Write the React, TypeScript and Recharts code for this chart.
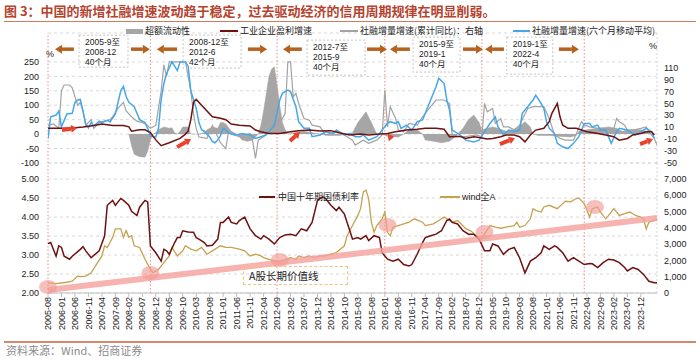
import React from 'react';
import {
  ComposedChart,
  Line,
  Area,
  XAxis,
  YAxis,
  CartesianGrid,
  ReferenceLine,
  ReferenceDot,
} from 'recharts';

// every point is [months since 2005-08, value]
type Pt = [number, number];

const tickLabels = [
  '2005-08', '2006-01', '2006-06', '2006-11', '2007-04', '2007-09', '2008-02', '2008-07', '2008-12',
  '2009-05', '2009-10', '2010-03', '2010-08', '2011-01', '2011-06', '2011-11', '2012-04', '2012-09',
  '2013-02', '2013-07', '2013-12', '2014-05', '2014-10', '2015-03', '2015-08', '2016-01', '2016-06',
  '2016-11', '2017-04', '2017-09', '2018-02', '2018-07', '2018-12', '2019-05', '2019-10', '2020-03',
  '2020-08', '2021-01', '2021-06', '2021-11', '2022-04', '2022-09', '2023-02', '2023-07', '2023-12',
];
const xTicks = tickLabels.map((_, i) => i * 5);

const topLeftTicks = [-100, -50, 0, 50, 100, 150, 200, 250];
const topRightTicks = [-50, -30, -10, 10, 30, 50, 70, 90, 110];
const bottomLeftTicks = [2, 2.5, 3, 3.5, 4, 4.5, 5];
const bottomRightTicks = [0, 1000, 2000, 3000, 4000, 5000, 6000, 7000];

// 超额流动性
const excessLiquidity: Pt[] = [
  [30, 0], [31, -40], [32, -70], [34, -78], [36, -80], [37, -60], [38, -20], [39, 0], [40, 5], [41, 15],
  [43, 25], [45, 20], [46, 22], [47, 5], [48, 0], [49, 10], [50, 25], [52, 25], [53, 0], [56, 0], [58, 5],
  [59, 15], [61, 25], [63, 20], [64, 40], [65, 40], [66, 35], [68, 10], [70, 0], [71, -10], [72, -20],
  [74, -25], [76, -20], [77, -10], [78, 0], [79, 30], [80, 80], [81, 140], [82, 200], [83, 225], [84, 233],
  [85, 170], [86, 100], [87, 40], [88, 15], [89, 0], [92, 5], [95, 10], [98, 5], [101, 0], [104, -5],
  [108, -5], [111, 0], [113, 5], [115, 40], [118, 77], [120, 40], [122, 0], [124, 0], [126, -8], [130, -10],
  [132, 0], [134, 15], [137, 15], [139, 0], [140, -20], [143, -25], [146, -30], [149, -25], [151, -10],
  [152, 0], [154, 20], [156, 50], [158, 66], [160, 40], [161, 15], [163, 20], [165, 25], [167, 20], [170, 10],
  [172, 15], [174, 20], [176, 35], [177, 43], [179, 25], [180, 0], [182, -5], [186, -5], [190, -8], [194, -10],
  [196, -5], [197, 10], [200, 15], [204, 20], [208, 25], [211, 20], [213, 10], [216, 15], [220, 15], [222, 10],
  [224, 0],
];

// 工业企业盈利增速
const profitGrowth: Pt[] = [
  [0, 20], [8, 20], [13, 25], [17, 30], [20, 35], [24, 30], [28, 30], [30, 25], [31, 10], [34, 15], [36, 15],
  [38, 5], [40, -20], [42, -40], [45, -30], [49, -15], [51, 0], [52, 10], [53, 50], [54, 110], [55, 120],
  [57, 100], [59, 80], [61, 60], [64, 55], [66, 50], [68, 35], [71, 31], [75, 28], [77, 14], [79, 8], [82, 2],
  [86, 2], [90, 8], [93, 12], [97, 14], [101, 11], [105, 12], [108, 5], [112, -3], [116, 0], [119, -3],
  [123, 0], [126, 2], [129, 8], [133, 14], [137, 17], [140, 20], [144, 20], [147, 17], [149, -9], [153, -8],
  [155, -15], [158, -9], [160, -12], [163, -17], [165, -15], [168, -9], [170, -3], [173, -3], [175, -9],
  [177, -27], [179, -3], [181, 14], [184, 20], [186, 43], [187, 72], [189, 106], [190, 60], [191, 31],
  [193, 20], [196, 20], [198, 14], [200, 8], [204, 2], [207, -3], [210, -9], [212, -21], [215, -15],
  [217, -3], [220, 2], [222, 8], [224, 8], [225, -3],
];

// 社融增量增速(累计同比)
const tsfCumGrowth: Pt[] = [
  [0, 30], [2, 35], [4, 20], [5, 150], [6, 170], [8, 170], [9, 160], [10, 130], [11, 100], [12, 110],
  [13, 80], [14, 30], [16, 50], [17, 20], [19, 40], [21, 45], [23, 50], [24, 60], [26, 90], [28, 110],
  [29, 80], [31, 60], [33, 45], [35, 40], [37, 30], [38, 20], [40, 30], [42, 150], [43, 240], [44, 200],
  [45, 250], [51, 250], [53, 150], [54, 70], [55, 20], [56, -10], [59, -15], [61, 30], [64, -30], [66, -50],
  [67, 10], [69, -3], [71, -9], [75, 2], [76, -27], [77, -84], [78, -21], [80, -9], [82, 8], [84, 25],
  [85, 48], [87, 54], [88, 72], [89, 250], [90, 250], [91, 129], [92, 141], [93, 106], [95, 54], [97, 48],
  [98, 31], [101, 25], [103, -3], [106, 8], [108, 8], [111, -9], [113, -21], [114, -38], [117, -21],
  [119, -32], [122, -21], [124, -3], [125, 152], [126, 25], [127, 95], [129, 54], [130, 14], [132, 8],
  [134, 37], [137, 31], [139, 60], [142, 95], [144, 118], [147, 118], [149, 106], [150, -3], [153, -9],
  [155, -9], [159, -3], [161, -9], [162, 106], [163, 77], [165, 89], [166, 37], [168, 54], [169, 25],
  [171, 25], [173, 14], [175, 31], [178, 89], [180, 95], [184, 95], [186, 54], [188, -3], [190, -15],
  [192, -21], [195, -21], [198, 43], [199, 31], [201, 25], [204, 20], [206, 20], [209, 14], [210, 20],
  [211, 54], [212, 43], [214, 31], [215, 14], [217, 14], [220, 20], [222, 25], [223, 8], [225, -15], [226, -38],
];

// 社融增量增速(六个月移动平均)
const tsfMa6Growth: Pt[] = [
  [0, -15], [1, 60], [3, 66], [4, 80], [5, 25], [7, 70], [9, 72], [10, 110], [11, 118], [12, 120], [14, 35],
  [15, 22], [16, 40], [17, 28], [19, 45], [20, 40], [22, 48], [23, 42], [25, 70], [26, 110], [27, 150],
  [28, 165], [29, 130], [30, 110], [32, 95], [33, 72], [34, 50], [36, 40], [37, 20], [38, -8], [40, -10],
  [41, 20], [42, 120], [43, 175], [44, 210], [46, 250], [48, 220], [49, 250], [51, 250], [52, 235], [53, 150],
  [54, 120], [55, 90], [56, 40], [57, 15], [58, 10], [60, -10], [61, -25], [62, -30], [63, -20], [64, -5],
  [65, 20], [66, 15], [67, 5], [68, 0], [70, -3], [72, 2], [75, -3], [77, -15], [79, -9], [81, -3], [84, 31],
  [86, 118], [87, 141], [89, 152], [90, 147], [92, 95], [93, 43], [95, 20], [97, 20], [98, -9], [101, -3],
  [103, 8], [106, 2], [107, 14], [110, -3], [112, 2], [114, -9], [116, -9], [117, -3], [119, -21], [122, -9],
  [123, 2], [124, 14], [126, 37], [127, 43], [129, 37], [130, 43], [131, 20], [133, 31], [135, 14], [137, 43],
  [139, 49], [142, 118], [144, 164], [145, 193], [147, 176], [148, 118], [149, 83], [150, 14], [153, -3],
  [155, -21], [158, -27], [160, -21], [162, 8], [164, 37], [166, 60], [167, 25], [169, -3], [171, 14],
  [173, 8], [175, 14], [176, 72], [178, 95], [180, 118], [181, 135], [183, 106], [184, 89], [185, 43],
  [186, 20], [188, 2], [189, -32], [191, -44], [193, -50], [195, -32], [197, -9], [199, 37], [201, 37],
  [202, 25], [204, 31], [205, 14], [207, 14], [209, -32], [211, 8], [212, 20], [215, 14], [217, 2], [218, -3],
  [220, 8], [222, 20], [224, 8], [225, -15],
];

// 中国十年期国债利率 (%)
const bond10y: Pt[] = [
  [0, 3.3], [1, 3.33], [3, 2.97], [4, 3.24], [5, 3.2], [6, 2.97], [8, 2.89], [9, 2.97], [12, 3.15], [13, 3.22],
  [14, 3.11], [16, 2.93], [17, 2.99], [19, 3.11], [21, 3.5], [22, 4.31], [24, 4.44], [25, 4.31], [26, 4.4],
  [27, 4.49], [28, 4.44], [30, 4.31], [31, 4.15], [33, 4.04], [34, 4.26], [36, 4.44], [37, 4.4], [38, 3.24],
  [40, 3.06], [42, 2.84], [43, 3.15], [44, 3.11], [45, 3.02], [47, 3.33], [48, 3.46], [49, 3.46], [50, 3.64],
  [52, 3.61], [54, 3.6], [55, 3.46], [56, 3.42], [58, 3.33], [59, 3.24], [61, 3.26], [63, 3.42], [64, 3.86],
  [65, 3.86], [67, 4.0], [68, 3.86], [70, 3.82], [71, 3.91], [73, 4.0], [75, 3.69], [77, 3.51], [79, 3.42],
  [80, 3.51], [82, 3.42], [84, 3.29], [86, 3.46], [88, 3.53], [90, 3.55], [92, 3.51], [94, 3.69], [96, 3.64],
  [98, 3.86], [100, 4.44], [102, 4.53], [103, 4.49], [105, 4.31], [107, 4.17], [108, 4.26], [110, 4.08],
  [111, 3.86], [112, 3.64], [113, 3.42], [115, 3.46], [116, 3.42], [118, 3.51], [119, 3.38], [121, 3.51],
  [123, 3.46], [124, 3.06], [126, 2.89], [128, 2.84], [130, 2.89], [132, 2.75], [134, 2.71], [135, 2.75],
  [137, 3.02], [139, 3.33], [140, 3.46], [142, 3.51], [144, 3.55], [146, 3.64], [148, 3.91], [149, 3.95],
  [150, 3.86], [152, 3.82], [154, 3.64], [156, 3.55], [158, 3.55], [160, 3.42], [162, 3.11], [164, 3.11],
  [165, 3.29], [167, 3.24], [169, 3.02], [171, 3.15], [173, 3.2], [175, 2.93], [177, 2.53], [179, 2.84],
  [181, 2.93], [183, 3.06], [184, 3.24], [186, 3.15], [188, 3.24], [189, 3.2], [191, 3.06], [193, 2.84],
  [195, 2.93], [197, 2.84], [199, 2.75], [201, 2.78], [202, 2.77], [204, 2.67], [206, 2.8], [208, 2.89],
  [210, 2.87], [212, 2.8], [214, 2.67], [215, 2.58], [217, 2.67], [219, 2.62], [221, 2.49], [223, 2.31],
  [225, 2.27], [226, 2.27],
];

// wind全A
const windA: Pt[] = [
  [0, 621], [3, 580], [7, 660], [9, 725], [11, 1035], [12, 1000], [14, 1035], [16, 1243], [18, 1760],
  [20, 2278], [21, 2900], [22, 2796], [24, 3417], [25, 3935], [27, 3935], [28, 3417], [29, 3831], [30, 3417],
  [31, 3520], [32, 2900], [34, 2796], [36, 2071], [38, 1450], [39, 1243], [41, 1450], [43, 1864], [45, 2278],
  [46, 2796], [48, 2278], [50, 2589], [51, 2900], [53, 2693], [55, 2589], [57, 2796], [59, 2382], [61, 2589],
  [64, 2900], [66, 2796], [68, 2796], [71, 2693], [73, 2589], [75, 2278], [77, 2382], [79, 2278], [80, 2175],
  [82, 2071], [84, 1967], [86, 1864], [88, 2071], [90, 2175], [92, 2071], [93, 2278], [95, 2175], [97, 2278],
  [99, 2175], [101, 2278], [103, 2278], [105, 2382], [107, 2485], [110, 2900], [111, 3521], [113, 4142],
  [115, 4763], [116, 5178], [117, 6213], [118, 6316], [119, 5799], [120, 4349], [121, 3728], [122, 4142],
  [124, 4556], [125, 4970], [126, 3728], [127, 3521], [128, 4039], [130, 4142], [132, 4246], [134, 4349],
  [136, 4556], [139, 4349], [140, 4142], [143, 4246], [145, 4453], [147, 4660], [148, 4556], [150, 4349],
  [152, 4453], [153, 4300], [155, 3950], [157, 3800], [159, 3500], [161, 3314], [162, 3624], [164, 4142],
  [166, 4039], [168, 3977], [170, 4039], [173, 4142], [174, 4349], [175, 4039], [177, 4142], [179, 4556],
  [180, 5178], [181, 5074], [183, 4970], [184, 5281], [186, 5385], [189, 5178], [191, 5488], [192, 5633],
  [194, 5592], [196, 5799], [197, 5840], [199, 5488], [201, 4660], [202, 5178], [204, 5281], [205, 4970],
  [207, 4556], [209, 4970], [210, 5178], [212, 4763], [214, 4867], [216, 4970], [218, 4763], [220, 4660],
  [221, 4556], [222, 3935], [223, 4349], [225, 4453], [226, 4494],
];

// cycle turning points (months) and notes
const cycleBreaks = [0, 38, 85, 125, 161, 199];
const cycleNotes = [
  ['2005-9至', '2008-12', '40个月'],
  ['2008-12至', '2012-6', '42个月'],
  ['2012-7至', '2015-9', '40个月'],
  ['2015-9至', '2019-1', '40个月'],
  ['2019-1至', '2022-4', '40个月'],
];
const noteAnchors: Pt[] = [[20.6, 287], [60.9, 285.6], [106.9, 264.8], [144.2, 275.2], [178.8, 271.7]];
const noteSizes = [[49, 32], [58, 33], [58, 35], [47, 35], [46, 37]];

// header arrows: [from month, to month], head at "to"
const periodArrows: Pt[] = [
  [9.6, 2.6], [30.8, 37.8], [47.9, 40.4], [74.2, 81.3], [94.2, 87.2],
  [118.4, 125.8], [134.3, 126.9], [154, 161.4], [169.2, 162.2], [189.6, 197],
];
const arrowLevel = 294;

// red turn arrows: [m1, v1, m2, v2]
const turnArrows = [
  [5.2, 14, 10.8, 21], [47.9, -45, 53.1, -17], [89.8, -24, 93.5, 7],
  [126.9, -11, 128.5, -9], [167.7, -35, 173.3, -14], [219.7, -35, 224.5, -17],
];

// A股长期价值线 (right axis)
const valueLine = [{ x: 0, y: 180 }, { x: 226, y: 4600 }];
const valueTouches: Pt[] = [[0, 368], [38, 1228], [86, 2026], [126, 4175], [162, 3745], [203, 5280]];

function mergeSeries(series: Record<string, Pt[]>) {
  const rows = new Map<number, Record<string, number>>();
  Object.entries(series).forEach(([key, pts]) => {
    pts.forEach(([m, v]) => {
      const row = rows.get(m) ?? { m };
      row[key] = v;
      rows.set(m, row);
    });
  });
  return Array.from(rows.values()).sort((a, b) => a.m - b.m);
}

const topData = mergeSeries({
  excess: excessLiquidity,
  profit: profitGrowth,
  tsfCum: tsfCumGrowth,
  tsfMa6: tsfMa6Growth,
});
const bottomData = mergeSeries({ bond: bond10y, wind: windA });

const SANS = "'Liberation Sans', Arial, 'Noto Sans CJK SC', sans-serif";
const CJK = "'Noto Sans CJK SC', 'Liberation Sans', sans-serif";
const tickStyle = { fontSize: 9, fill: '#222', fontFamily: SANS };
const DOMAIN_X: [number, number] = [0, 226];

const arrowShape = (color: string, width: number, head: number) => (p: any) => {
  const { x1, y1, x2, y2 } = p;
  const dx = x2 - x1;
  const dy = y2 - y1;
  const len = Math.hypot(dx, dy) || 1;
  const ux = dx / len;
  const uy = dy / len;
  const bx = x2 - ux * head;
  const by = y2 - uy * head;
  const hw = head * 0.65;
  return (
    <g>
      <line x1={x1} y1={y1} x2={bx} y2={by} stroke={color} strokeWidth={width} />
      <polygon
        points={`${x2},${y2} ${bx - uy * hw},${by + ux * hw} ${bx + uy * hw},${by - ux * hw}`}
        fill={color}
      />
    </g>
  );
};

const noteShape = (lines: string[], w: number, h: number) => (p: any) => {
  const left = p.cx - w / 2;
  const top = p.cy - h / 2;
  return (
    <g>
      <rect x={left} y={top} width={w} height={h} fill="none" stroke="#c4c4c4" strokeDasharray="2 2" />
      {lines.map((t, i) => (
        <text key={i} x={left + 6} y={top + 10 + i * 10} fontSize={8.5} fill="#222" fontFamily={SANS}>
          {t}
        </text>
      ))}
    </g>
  );
};

const MonthTick = (props: any) => {
  const { x, y, payload } = props;
  return (
    <text
      x={x}
      y={y}
      transform={`rotate(-90, ${x}, ${y})`}
      textAnchor="end"
      dy="0.35em"
      fontSize={9}
      fill="#222"
      fontFamily={SANS}
    >
      {tickLabels[Math.round(payload.value / 5)]}
    </text>
  );
};

const Abs: React.FC<{ x: number; y: number; size?: number; color?: string; font?: string; children: React.ReactNode }> = ({
  x, y, size = 9, color = '#222', font = CJK, children,
}) => (
  <div
    style={{
      position: 'absolute',
      left: x,
      top: y - size * 0.7,
      fontSize: size,
      lineHeight: `${size * 1.4}px`,
      color,
      fontFamily: font,
      whiteSpace: 'nowrap',
    }}
  >
    {children}
  </div>
);

const Swatch: React.FC<{ x: number; y: number; w: number; h: number; color: string }> = ({ x, y, w, h, color }) => (
  <div style={{ position: 'absolute', left: x, top: y - h / 2, width: w, height: h, background: color }} />
);

const dotted = (yAxisId: string) =>
  cycleBreaks.map((m) => (
    <ReferenceLine key={`b${m}`} yAxisId={yAxisId} x={m} stroke="#f08a8a" strokeDasharray="1.5 2" />
  ));

export default function App() {
  return (
    <div style={{ position: 'absolute', left: 0, top: 0, width: 700, height: 360, background: '#fff', fontFamily: CJK }}>
      <Abs x={4} y={11} size={13} color="#b5432f">
        <b>图 3：中国的新增社融增速波动趋于稳定，过去驱动经济的信用周期规律在明显削弱。</b>
      </Abs>
      <div style={{ position: 'absolute', left: 4, top: 21, width: 692, height: 1, background: '#cf7b5c' }} />

      {/* top chart */}
      <div style={{ position: 'absolute', left: 0, top: 0 }}>
        <ComposedChart width={700} height={170} data={topData} margin={{ top: 33, right: 0, bottom: 7, left: 8 }}>
          <XAxis type="number" dataKey="m" domain={DOMAIN_X} hide allowDataOverflow />
          <YAxis
            yAxisId="left"
            domain={[-100, 350]}
            ticks={topLeftTicks}
            interval={0}
            width={40}
            axisLine={false}
            tickLine={false}
            tickSize={0}
            tickMargin={9}
            tick={tickStyle}
            allowDataOverflow
          />
          <YAxis
            yAxisId="right"
            orientation="right"
            domain={[-51, 169.5]}
            ticks={topRightTicks}
            interval={0}
            width={43}
            axisLine={false}
            tickLine={false}
            tickSize={0}
            tickMargin={7}
            tick={{ ...tickStyle, textAnchor: 'start' }}
            allowDataOverflow
          />
          <CartesianGrid yAxisId="left" vertical={false} stroke="#d9d9d9" strokeDasharray="3 3" />
          {dotted('left')}
          <ReferenceLine yAxisId="left" x={226} stroke="#d6d6d6" strokeDasharray="2 2" />
          <Area
            yAxisId="left"
            dataKey="excess"
            type="linear"
            baseValue={0}
            fill="#a6a6a6"
            fillOpacity={1}
            stroke="#a6a6a6"
            strokeWidth={0.5}
            connectNulls
            isAnimationActive={false}
          />
          <Line yAxisId="left" dataKey="tsfCum" type="linear" stroke="#a3a3a3" strokeWidth={1.2} dot={false} connectNulls isAnimationActive={false} />
          <Line yAxisId="left" dataKey="tsfMa6" type="linear" stroke="#45a7ea" strokeWidth={1.5} dot={false} connectNulls isAnimationActive={false} />
          <Line yAxisId="left" dataKey="profit" type="linear" stroke="#6e1111" strokeWidth={1.5} dot={false} connectNulls isAnimationActive={false} />
          {periodArrows.map(([a, b], i) => (
            <ReferenceLine
              key={`pa${i}`}
              yAxisId="left"
              segment={[{ x: a, y: arrowLevel }, { x: b, y: arrowLevel }]}
              shape={arrowShape('#b5621e', 3.5, 7)}
            />
          ))}
          {turnArrows.map(([m1, v1, m2, v2], i) => (
            <ReferenceLine
              key={`ta${i}`}
              yAxisId="left"
              segment={[{ x: m1, y: v1 }, { x: m2, y: v2 }]}
              shape={arrowShape('#e8412c', 4, 6)}
            />
          ))}
          {noteAnchors.map(([m, v], i) => (
            <ReferenceDot
              key={`n${i}`}
              yAxisId="left"
              x={m}
              y={v}
              shape={noteShape(cycleNotes[i], noteSizes[i][0], noteSizes[i][1])}
            />
          ))}
        </ComposedChart>
      </div>

      {/* bottom chart */}
      <div style={{ position: 'absolute', left: 0, top: 150 }}>
        <ComposedChart width={700} height={210} data={bottomData} margin={{ top: 13, right: 0, bottom: 17, left: 8 }}>
          <XAxis
            type="number"
            dataKey="m"
            domain={DOMAIN_X}
            ticks={xTicks}
            interval={0}
            height={50}
            tick={MonthTick}
            tickSize={4}
            tickMargin={0}
            axisLine={{ stroke: '#bfbfbf' }}
            tickLine={{ stroke: '#bfbfbf' }}
            allowDataOverflow
          />
          <YAxis
            yAxisId="left"
            domain={[2, 5.425]}
            ticks={bottomLeftTicks}
            interval={0}
            width={40}
            axisLine={false}
            tickLine={false}
            tickSize={0}
            tickMargin={9}
            tick={tickStyle}
            tickFormatter={(v: number) => v.toFixed(2)}
            allowDataOverflow
          />
          <YAxis
            yAxisId="right"
            orientation="right"
            domain={[0, 7982]}
            ticks={bottomRightTicks}
            interval={0}
            width={43}
            axisLine={false}
            tickLine={false}
            tickSize={0}
            tickMargin={7}
            tick={{ ...tickStyle, textAnchor: 'start' }}
            tickFormatter={(v: number) => v.toLocaleString('en-US')}
            allowDataOverflow
          />
          <CartesianGrid yAxisId="left" vertical={false} stroke="#d9d9d9" strokeDasharray="3 3" />
          {dotted('left')}
          <ReferenceLine yAxisId="left" x={226} stroke="#d6d6d6" strokeDasharray="2 2" />
          <Line yAxisId="right" dataKey="wind" type="linear" stroke="#c4a24e" strokeWidth={1.3} dot={false} connectNulls isAnimationActive={false} />
          <Line yAxisId="left" dataKey="bond" type="linear" stroke="#6e1111" strokeWidth={1.5} dot={false} connectNulls isAnimationActive={false} />
          <ReferenceLine
            yAxisId="right"
            segment={valueLine}
            stroke="#f4a09b"
            strokeOpacity={0.8}
            strokeWidth={6}
            ifOverflow="visible"
          />
          {valueTouches.map(([m, v], i) => (
            <ReferenceDot
              key={`vt${i}`}
              yAxisId="right"
              x={m}
              y={v}
              ifOverflow="visible"
              shape={(p: any) => <ellipse cx={p.cx} cy={p.cy} rx={9} ry={7} fill="#f29c97" fillOpacity={0.65} />}
            />
          ))}
        </ComposedChart>
      </div>

      {/* top legend */}
      <Swatch x={126} y={31} w={17} h={5} color="#a6a6a6" />
      <Abs x={145} y={31}>超额流动性</Abs>
      <Swatch x={220} y={31} w={18} h={2} color="#6e1111" />
      <Abs x={240} y={31}>工业企业盈利增速</Abs>
      <Swatch x={340} y={31} w={18} h={1.5} color="#a3a3a3" />
      <Abs x={360} y={31}>社融增量增速(累计同比)：右轴</Abs>
      <Swatch x={513} y={31} w={17} h={1.5} color="#45a7ea" />
      <Abs x={532} y={31}>社融增量增速(六个月移动平均)</Abs>
      <Abs x={46} y={54} size={9} font={SANS}>%</Abs>
      <Abs x={649} y={46} size={9} font={SANS}>%</Abs>

      {/* bottom legend */}
      <Swatch x={259} y={197} w={16} h={2} color="#6e1111" />
      <Abs x={278} y={197}>中国十年期国债利率</Abs>
      <Swatch x={440} y={197} w={20} h={2} color="#c4a24e" />
      <Abs x={462} y={197} font={SANS}>wind全A</Abs>

      <div
        style={{
          position: 'absolute',
          left: 243,
          top: 266,
          width: 105,
          height: 19,
          border: '1px dashed #f0c27a',
          boxSizing: 'border-box',
        }}
      />
      <Abs x={249} y={276} size={10.5}>A股长期价值线</Abs>

      <div style={{ position: 'absolute', left: 4, top: 341, width: 692, height: 1.5, background: '#d6896d' }} />
      <Abs x={6} y={351} size={11} color="#8c8c8c">资料来源：Wind、招商证券</Abs>
    </div>
  );
}
